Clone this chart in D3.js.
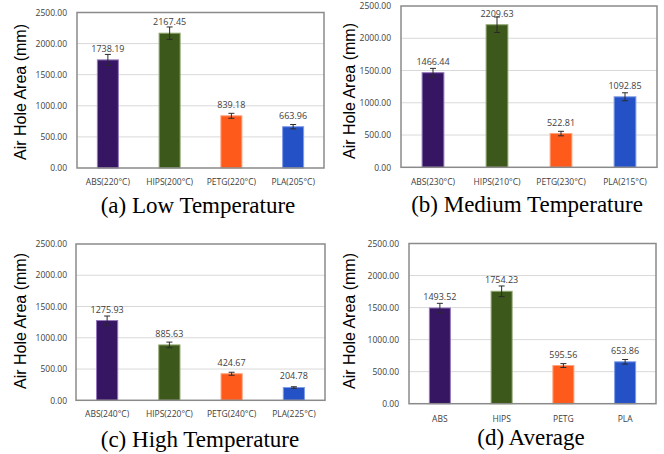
<!DOCTYPE html>
<html>
<head>
<meta charset="utf-8">
<script src="https://cdn.jsdelivr.net/npm/d3@7"></script>
<style>
html,body{margin:0;padding:0;background:#fff;}
svg{display:block;}
</style>
</head>
<body>
<svg id="chart" width="664" height="454"></svg>
<script>
// ---- data ----
const materials = ["ABS", "HIPS", "PETG", "PLA"];
const categoriesLow = ["ABS(220°C)", "HIPS(200°C)", "PETG(220°C)", "PLA(205°C)"];
const valuesLow = [1738.19, 2167.45, 839.18, 663.96];
const errorsLow = [88, 100, 40, 35];
const categoriesMed = ["ABS(230°C)", "HIPS(210°C)", "PETG(230°C)", "PLA(215°C)"];
const valuesMed = [1466.44, 2209.63, 522.81, 1092.85];
const errorsMed = [67, 120, 35, 62];
const categoriesHigh = ["ABS(240°C)", "HIPS(220°C)", "PETG(240°C)", "PLA(225°C)"];
const valuesHigh = [1275.93, 885.63, 424.67, 204.78];
const errorsHigh = [72, 45, 24, 12];
const categoriesAvg = ["ABS", "HIPS", "PETG", "PLA"];
const valuesAvg = [1493.52, 1754.23, 595.56, 653.86];
const errorsAvg = [73, 83, 30, 36];
const yTicks = [0, 500, 1000, 1500, 2000, 2500];
const captions = ["(a) Low Temperature", "(b) Medium Temperature", "(c) High Temperature", "(d) Average"];
const yTitle = "Air Hole Area (mm)";

// ---- styles / layout ----
const fillColors = {ABS: "#361562", HIPS: "#3c581b", PETG: "#fd5a1c", PLA: "#2452c6"};
const edgeColors = {ABS: "#9478bb", HIPS: "#8fa66e", PETG: "#ffa27a", PLA: "#7f9ce6"};

const layouts = [
  {left: 77, right: 324, top: 12.5, bottom: 168, tickX: 67, titleX: 26, titleY: 92, labelY: 186, capX: 198, capY: 213},
  {left: 401, right: 657, top: 6, bottom: 167.3, tickX: 391, titleX: 355, titleY: 91, labelY: 186, capX: 527, capY: 212},
  {left: 76, right: 325, top: 244, bottom: 400.3, tickX: 67, titleX: 26, titleY: 321, labelY: 418, capX: 200, capY: 447},
  {left: 409, right: 656, top: 243.5, bottom: 403.7, tickX: 399, titleX: 355, titleY: 321, labelY: 423, capX: 531, capY: 445}
];

const panels = [
  {cats: categoriesLow, vals: valuesLow, errs: errorsLow},
  {cats: categoriesMed, vals: valuesMed, errs: errorsMed},
  {cats: categoriesHigh, vals: valuesHigh, errs: errorsHigh},
  {cats: categoriesAvg, vals: valuesAvg, errs: errorsAvg}
];

const svg = d3.select("#chart");
const smallFont = "'Open Sans', 'DejaVu Sans', sans-serif";

panels.forEach((p, i) => {
  const L = layouts[i];
  const g = svg.append("g");
  const x = d3.scaleBand().domain(p.cats).range([L.left, L.right]).paddingInner(0.66).paddingOuter(0.33);
  const y = d3.scaleLinear().domain([0, 2500]).range([L.bottom, L.top]);

  // gridlines
  g.selectAll("line.grid").data(yTicks.filter(t => t > 0 && t < 2500)).enter().append("line")
    .attr("x1", L.left).attr("x2", L.right)
    .attr("y1", d => y(d)).attr("y2", d => y(d))
    .attr("stroke", "#d9d9d9").attr("stroke-width", 1);

  // y axis tick labels
  const yAxis = d3.axisLeft(y).tickValues(yTicks).tickFormat(d3.format(".2f")).tickSize(0).tickPadding(0);
  const ya = g.append("g").attr("transform", `translate(${L.tickX},0)`).call(yAxis);
  ya.select(".domain").remove();
  ya.selectAll("text").attr("font-family", smallFont).attr("font-size", 8.5).attr("fill", "#404040");

  // bars
  g.selectAll("rect.bar").data(p.vals).enter().append("rect")
    .attr("x", (d, j) => x(p.cats[j]))
    .attr("width", x.bandwidth())
    .attr("y", d => y(d))
    .attr("height", d => y(0) - y(d))
    .attr("fill", (d, j) => fillColors[materials[j]])
    .attr("stroke", (d, j) => edgeColors[materials[j]])
    .attr("stroke-width", 1);

  // error bars
  p.vals.forEach((v, j) => {
    const cx = x(p.cats[j]) + x.bandwidth() / 2;
    const e = p.errs[j];
    const eg = g.append("g").attr("stroke", "#2b2b2b").attr("stroke-width", 1);
    eg.append("line").attr("x1", cx).attr("x2", cx).attr("y1", y(v + e)).attr("y2", y(v - e));
    eg.append("line").attr("x1", cx - 3).attr("x2", cx + 3).attr("y1", y(v + e)).attr("y2", y(v + e));
    eg.append("line").attr("x1", cx - 3).attr("x2", cx + 3).attr("y1", y(v - e)).attr("y2", y(v - e));
  });

  // value labels
  g.selectAll("text.val").data(p.vals).enter().append("text")
    .attr("x", (d, j) => x(p.cats[j]) + x.bandwidth() / 2)
    .attr("y", d => y(d) - 8)
    .attr("text-anchor", "middle")
    .attr("font-family", smallFont).attr("font-size", 9).attr("fill", "#404040")
    .text(d => d3.format(".2f")(d));

  // x axis labels
  const xAxis = d3.axisBottom(x).tickSize(0).tickPadding(0);
  const xa = g.append("g").attr("transform", `translate(0,${L.labelY - 7})`).call(xAxis);
  xa.select(".domain").remove();
  xa.selectAll("text").attr("font-family", smallFont).attr("font-size", 8.5).attr("fill", "#404040");

  // frame
  g.append("rect").attr("x", L.left).attr("y", L.top)
    .attr("width", L.right - L.left).attr("height", L.bottom - L.top)
    .attr("fill", "none").attr("stroke", "#8a8a8a").attr("stroke-width", 1.5);

  // y title
  g.append("text")
    .attr("transform", `translate(${L.titleX},${L.titleY}) rotate(-90)`)
    .attr("text-anchor", "middle")
    .attr("font-family", "'Liberation Sans', Arial, sans-serif").attr("font-size", 16).attr("fill", "#000")
    .text(yTitle);

  // caption
  g.append("text")
    .attr("x", L.capX).attr("y", L.capY)
    .attr("text-anchor", "middle")
    .attr("font-family", "'Liberation Serif', 'Times New Roman', serif").attr("font-size", 23).attr("fill", "#000")
    .text(captions[i]);
});
</script>
</body>
</html>
